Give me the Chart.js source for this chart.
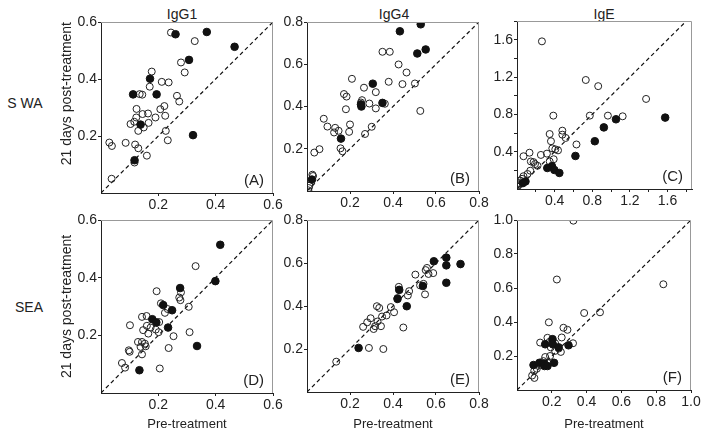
<!DOCTYPE html>
<html>
<head>
<meta charset="utf-8">
<script src="https://cdn.jsdelivr.net/npm/chart.js@4.4.1/dist/chart.umd.min.js"></script>
<style>
  body { margin: 0; background: #fff; }
  #wrap { position: relative; width: 705px; height: 435px; overflow: hidden;
          font-family: "Liberation Sans", Arial, sans-serif; color: #222; }
  #wrap canvas { position: absolute; }
  .lbl { position: absolute; font-size: 14px; white-space: nowrap; transform: translate(-50%, -50%); }
</style>
</head>
<body>
<div id="wrap">
  <div class="lbl" style="left:182px;top:14px">IgG1</div>
  <div class="lbl" style="left:394px;top:14px">IgG4</div>
  <div class="lbl" style="left:604px;top:14px">IgE</div>
  <div class="lbl" style="left:25px;top:103px">S WA</div>
  <div class="lbl" style="left:29px;top:307px">SEA</div>
  <canvas id="pA"></canvas>
  <canvas id="pB"></canvas>
  <canvas id="pC"></canvas>
  <canvas id="pD"></canvas>
  <canvas id="pE"></canvas>
  <canvas id="pF"></canvas>
</div>
<script>
// [pre-treatment, 21 days post-treatment]
const swaIgG1Open = [[0.244,0.563],[0.327,0.533],[0.279,0.458],[0.292,0.423],[0.177,0.426],[0.212,0.390],
  [0.236,0.388],[0.170,0.373],[0.135,0.347],[0.144,0.345],[0.265,0.341],[0.273,0.321],[0.124,0.295],
  [0.207,0.294],[0.221,0.305],[0.145,0.277],[0.164,0.279],[0.224,0.271],[0.123,0.265],[0.103,0.242],
  [0.116,0.250],[0.166,0.246],[0.149,0.230],[0.130,0.218],[0.190,0.265],[0.226,0.218],[0.233,0.185],
  [0.029,0.177],[0.038,0.165],[0.086,0.176],[0.119,0.170],[0.130,0.157],[0.160,0.131],[0.117,0.107],
  [0.037,0.050]];
const swaIgG1Filled = [[0.260,0.557],[0.369,0.565],[0.466,0.513],[0.307,0.467],[0.171,0.401],[0.112,0.346],
  [0.194,0.346],[0.138,0.240],[0.321,0.203],[0.117,0.115]];

const swaIgG4Open = [[0.351,0.659],[0.385,0.659],[0.426,0.599],[0.463,0.561],[0.502,0.509],[0.444,0.506],
  [0.380,0.517],[0.209,0.531],[0.265,0.489],[0.320,0.468],[0.172,0.459],[0.184,0.447],[0.251,0.419],
  [0.256,0.430],[0.290,0.414],[0.362,0.413],[0.320,0.391],[0.181,0.387],[0.078,0.342],[0.095,0.305],
  [0.131,0.299],[0.126,0.277],[0.147,0.285],[0.200,0.315],[0.196,0.280],[0.301,0.304],[0.270,0.270],
  [0.527,0.379],[0.156,0.202],[0.165,0.188],[0.058,0.198],[0.034,0.182],[0.025,0.077],[0.028,0.071],
  [0.011,0.025],[0.008,0.014],[0.006,0.003]];
const swaIgG4Filled = [[0.529,0.789],[0.432,0.756],[0.513,0.651],[0.552,0.670],[0.306,0.508],[0.351,0.417],
  [0.253,0.400],[0.251,0.410],[0.158,0.248],[0.023,0.054]];

const swaIgEOpen = [[0.265,1.582],[0.731,1.168],[0.863,1.102],[1.372,0.965],[0.386,0.786],[0.774,0.786],
  [0.966,0.786],[1.123,0.779],[0.482,0.625],[0.482,0.582],[0.517,0.547],[0.347,0.589],[0.361,0.512],
  [0.375,0.435],[0.436,0.414],[0.407,0.425],[0.632,0.477],[0.133,0.389],[0.069,0.351],[0.254,0.365],
  [0.318,0.379],[0.390,0.319],[0.347,0.295],[0.147,0.295],[0.176,0.288],[0.191,0.267],[0.218,0.249],
  [0.141,0.196],[0.112,0.161],[0.069,0.137],[0.054,0.109],[0.033,0.091],[0.026,0.063],[0.019,0.046],
  [0.012,0.035]];
const swaIgEFilled = [[1.575,0.765],[1.052,0.747],[0.923,0.660],[0.827,0.512],[0.621,0.354],[0.371,0.245],
  [0.397,0.204],[0.322,0.225],[0.450,0.172],[0.090,0.081],[0.062,0.063]];

const seaIgG1Open = [[0.330,0.440],[0.194,0.353],[0.273,0.331],[0.277,0.322],[0.279,0.349],[0.209,0.311],
  [0.223,0.278],[0.233,0.291],[0.306,0.299],[0.143,0.264],[0.159,0.267],[0.203,0.246],[0.101,0.235],
  [0.160,0.233],[0.173,0.227],[0.147,0.218],[0.165,0.206],[0.191,0.220],[0.201,0.211],[0.253,0.197],
  [0.309,0.211],[0.129,0.177],[0.143,0.177],[0.153,0.171],[0.138,0.160],[0.156,0.162],[0.097,0.148],
  [0.100,0.143],[0.143,0.134],[0.236,0.156],[0.073,0.104],[0.084,0.088],[0.205,0.085]];
const seaIgG1Filled = [[0.416,0.514],[0.399,0.388],[0.276,0.364],[0.217,0.305],[0.248,0.287],[0.179,0.256],
  [0.193,0.245],[0.234,0.227],[0.335,0.163],[0.134,0.079]];

const seaIgG4Open = [[0.136,0.141],[0.288,0.205],[0.355,0.200],[0.448,0.300],[0.261,0.303],[0.280,0.324],
  [0.296,0.343],[0.310,0.293],[0.317,0.306],[0.328,0.328],[0.325,0.399],[0.336,0.391],[0.344,0.306],
  [0.349,0.351],[0.370,0.356],[0.390,0.395],[0.405,0.371],[0.427,0.489],[0.469,0.449],[0.475,0.469],
  [0.504,0.546],[0.526,0.496],[0.542,0.503],[0.549,0.454],[0.552,0.567],[0.558,0.577],[0.565,0.549],
  [0.587,0.553],[0.421,0.437]];
const seaIgG4Filled = [[0.240,0.205],[0.464,0.399],[0.421,0.433],[0.429,0.475],[0.539,0.493],[0.590,0.608],
  [0.648,0.625],[0.648,0.589],[0.648,0.508],[0.714,0.595]];

const seaIgEOpen = [[0.324,0.996],[0.229,0.650],[0.841,0.622],[0.386,0.453],[0.477,0.457],[0.183,0.398],
  [0.267,0.366],[0.290,0.354],[0.257,0.309],[0.322,0.275],[0.133,0.279],[0.175,0.307],[0.187,0.283],
  [0.219,0.275],[0.240,0.244],[0.252,0.224],[0.219,0.230],[0.190,0.200],[0.162,0.194],[0.152,0.170],
  [0.175,0.160],[0.133,0.149],[0.114,0.125],[0.099,0.113],[0.100,0.071],[0.087,0.085],[0.194,0.251]];
const seaIgEFilled = [[0.204,0.299],[0.162,0.269],[0.206,0.269],[0.296,0.263],[0.239,0.251],[0.213,0.160],
  [0.095,0.147],[0.129,0.160],[0.156,0.156],[0.158,0.141],[0.175,0.141]];

Chart.defaults.font.family = '"Liberation Sans", Arial, sans-serif';
Chart.defaults.font.size = 14;
Chart.defaults.color = '#222';

// gray top/right frame and the panel letter
const framePlugin = {
  id: 'frame',
  afterDraw(chart, args, opts) {
    const { ctx, chartArea: a } = chart;
    ctx.save();
    ctx.strokeStyle = '#999';
    ctx.lineWidth = 1;
    ctx.beginPath();
    ctx.moveTo(a.left, a.top + 0.5);
    ctx.lineTo(a.right - 0.5, a.top + 0.5);
    ctx.lineTo(a.right - 0.5, a.bottom);
    ctx.stroke();
    ctx.fillStyle = '#222';
    ctx.font = '15px "Liberation Sans", Arial, sans-serif';
    ctx.textAlign = 'right';
    ctx.textBaseline = 'alphabetic';
    ctx.fillText(opts.tag, a.right - 9, a.bottom - 8);
    ctx.restore();
  }
};

function axis(max, size, title, isY, step4, titleAlign) {
  return {
    type: 'linear', min: 0, max: max,
    afterBuildTicks(s) { s.ticks = s.ticks.filter(t => t.value > 0.001); },
    afterFit(s) { if (isY) s.width = size; else s.height = size; },
    grid: { drawOnChartArea: false, drawTicks: true, tickLength: 3, color: '#222' },
    border: { display: true, color: '#222', width: 1 },
    ticks: {
      stepSize: 0.2, includeBounds: false, padding: 1, autoSkip: false, maxRotation: 0,
      callback(v) {
        const k = Math.round(v * 10);
        if (step4 && k % 4 !== 0) return '';
        return (k / 10).toFixed(1);
      }
    },
    title: title ? { display: true, text: title, align: titleAlign || 'center', font: { size: isY ? 14 : 13 } } : { display: false }
  };
}

function panel(id, open, filled, p) {
  const canvas = document.getElementById(id);
  const left = p.area[0] - p.yw, top = p.area[1] - 10;
  const width = p.area[2] - left + 14, height = p.area[3] + p.xh - top;
  canvas.style.left = left + 'px';
  canvas.style.top = top + 'px';
  canvas.width = width;
  canvas.height = height;
  const pt = a => ({ x: a[0], y: a[1] });
  new Chart(canvas, {
    type: 'scatter',
    data: {
      datasets: [
        { data: filled.map(pt), pointRadius: 3.8, pointBackgroundColor: '#111', pointBorderColor: '#111', pointBorderWidth: 1 },
        { data: open.map(pt), pointRadius: 3.5, pointBackgroundColor: 'rgba(0,0,0,0)', pointBorderColor: '#222', pointBorderWidth: 1 },
        { type: 'line', data: [{ x: 0, y: 0 }, { x: p.diag, y: p.diag }], borderColor: '#111', borderWidth: 1.2,
          borderDash: [4, 3], pointRadius: 0, fill: false }
      ]
    },
    options: {
      responsive: false, animation: false,
      layout: { padding: { top: 10, right: 14, left: 0, bottom: 0 } },
      plugins: { legend: { display: false }, tooltip: { enabled: false }, frame: { tag: p.tag } },
      scales: {
        x: axis(p.xmax, p.xh, p.xTitle, false, p.step4),
        y: axis(p.ymax, p.yw, p.yTitle, true, p.step4, p.yAlign)
      }
    },
    plugins: [framePlugin]
  });
}

const yT = '21 days post-treatment', xT = 'Pre-treatment';
panel('pA', swaIgG1Open, swaIgG1Filled, { area: [101, 22, 273, 193], yw: 46, xh: 26, xmax: 0.6, ymax: 0.6, diag: 0.6, tag: '(A)', yTitle: yT, yAlign: 'end' });
panel('pB', swaIgG4Open, swaIgG4Filled, { area: [307, 22, 479, 191], yw: 40, xh: 26, xmax: 0.8, ymax: 0.8, diag: 0.8, tag: '(B)' });
panel('pC', swaIgEOpen, swaIgEFilled, { area: [517, 21, 692, 189], yw: 40, xh: 26, xmax: 1.86, ymax: 1.8, diag: 1.8, tag: '(C)', step4: true });
panel('pD', seaIgG1Open, seaIgG1Filled, { area: [101, 220, 273, 393], yw: 46, xh: 43, xmax: 0.6, ymax: 0.6, diag: 0.6, tag: '(D)', yTitle: yT, xTitle: xT });
panel('pE', seaIgG4Open, seaIgG4Filled, { area: [307, 220, 479, 392], yw: 40, xh: 44, xmax: 0.8, ymax: 0.8, diag: 0.8, tag: '(E)', xTitle: xT });
panel('pF', seaIgEOpen, seaIgEFilled, { area: [517, 220, 691, 390], yw: 40, xh: 46, xmax: 1.0, ymax: 1.0, diag: 1.0, tag: '(F)', xTitle: xT });
</script>
</body>
</html>
